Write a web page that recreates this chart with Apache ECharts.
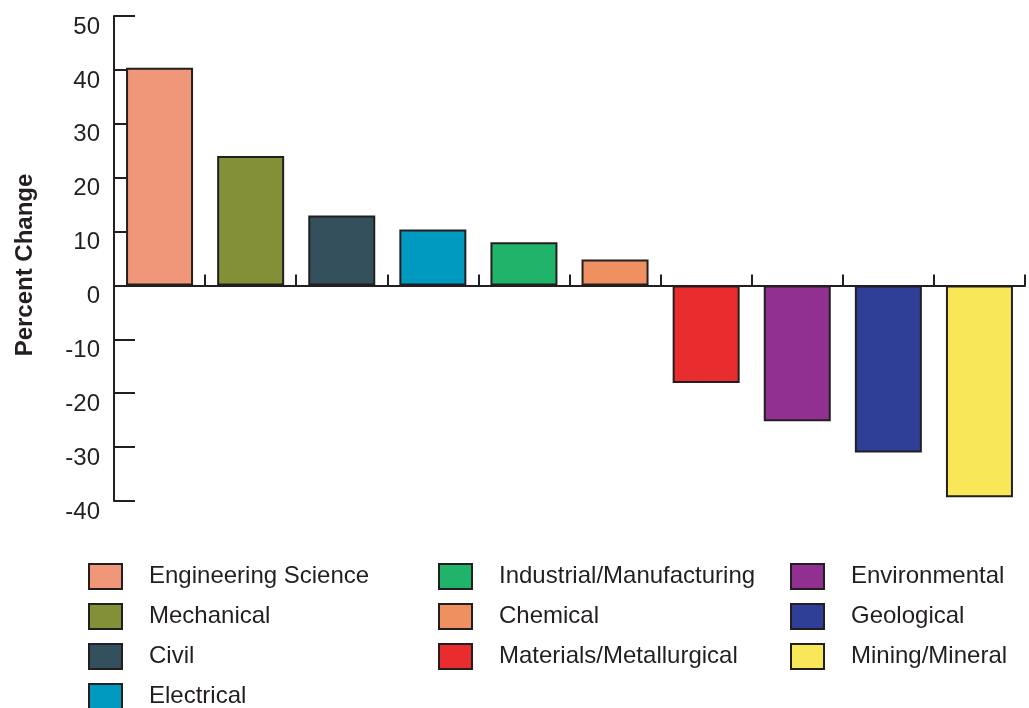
<!DOCTYPE html>
<html>
<head>
<meta charset="utf-8">
<script src="https://cdn.jsdelivr.net/npm/echarts@6/dist/echarts.min.js"></script>
<style>html,body{margin:0;padding:0;background:#fff;}#c{width:1029px;height:708px;}</style>
</head>
<body>
<div id="c"></div>
<script>
var categories = ['Engineering Science','Mechanical','Civil','Electrical','Industrial/Manufacturing','Chemical','Materials/Metallurgical','Environmental','Geological','Mining/Mineral'];
var percentChange = [40.4, 24, 13, 10.4, 8, 4.8, -18.1, -25.2, -31, -39.3];
var barColors = ['#f0977a','#839038','#34505c','#009ac0','#1fb46a','#ee9060','#e92d2f','#913090','#2f3f98','#f9e75a'];
var yTicks = {min: -40, max: 50, interval: 10};
var yTitle = 'Percent Change';

var FONT = 'Liberation Sans, Arial, sans-serif';
var INK = '#231f20';

var series = categories.map(function (name, i) {
  return {
    name: name,
    type: 'bar',
    stack: 'all',
    barWidth: 67,
    data: categories.map(function (_, j) { return j === i ? percentChange[i] : '-'; }),
    itemStyle: { color: barColors[i], borderColor: INK, borderWidth: 2 }
  };
});

function legendBlock(names, left) {
  return {
    orient: 'vertical',
    left: left,
    top: 563,
    height: 300,
    padding: 0,
    itemWidth: 33,
    itemHeight: 25,
    itemGap: 13,
    selectedMode: false,
    icon: 'rect',
    itemStyle: { borderColor: INK, borderWidth: 2 },
    textStyle: { fontFamily: FONT, fontSize: 24, color: INK, padding: [0, 0, 0, 22] },
    data: names
  };
}

var chart = echarts.init(document.getElementById('c'), null, { renderer: 'canvas' });
chart.setOption({
  animation: false,
  backgroundColor: '#fff',
  grid: { left: 114, right: 4, top: 16, bottom: 207, containLabel: false },
  graphic: [{
    type: 'text',
    x: 25,
    y: 265,
    rotation: Math.PI / 2,
    style: {
      text: yTitle,
      fontFamily: FONT,
      fontSize: 24,
      fontWeight: 'bold',
      fill: INK,
      align: 'center',
      verticalAlign: 'middle'
    }
  }],
  legend: [
    legendBlock(categories.slice(0, 4), 88),
    legendBlock(categories.slice(4, 7), 438),
    legendBlock(categories.slice(7, 10), 790)
  ],
  xAxis: {
    type: 'category',
    data: categories,
    axisLine: { onZero: true, lineStyle: { color: INK, width: 2 } },
    axisTick: { show: true, interval: 0, inside: true, length: 11, alignWithLabel: false, lineStyle: { color: INK, width: 2 } },
    axisLabel: { show: false, interval: 0 },
    splitLine: { show: false }
  },
  yAxis: {
    type: 'value',
    min: yTicks.min,
    max: yTicks.max,
    interval: yTicks.interval,
    axisLine: { show: true, onZero: false, lineStyle: { color: INK, width: 2 } },
    axisTick: { show: true, inside: true, length: 21, lineStyle: { color: INK, width: 2 } },
    axisLabel: { fontFamily: FONT, fontSize: 24, color: INK, margin: 14, verticalAlign: 'top', lineHeight: 22 },
    splitLine: { show: false }
  },
  series: series
});
</script>
</body>
</html>
